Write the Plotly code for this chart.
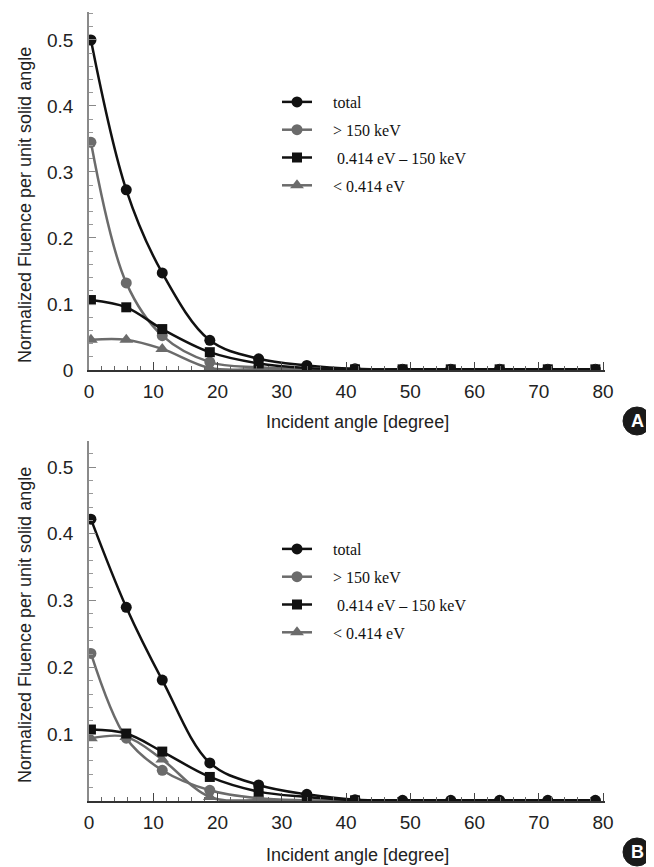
import plotly.graph_objects as go

# ---------------- data ----------------
angles = [0.3, 5.8, 11.4, 18.8, 26.4, 33.9, 41.4, 48.8, 56.3, 63.9, 71.4, 78.8]
series_names = ["total", "> 150 keV", " 0.414 eV \u2013 150 keV", "< 0.414 eV"]

# Panel A
a_total = [0.500, 0.273, 0.147, 0.045, 0.017, 0.007, 0.002, 0.001, 0.001, 0.001, 0.001, 0.001]
a_fast = [0.345, 0.132, 0.052, 0.012, 0.004, 0.001, 0.000, 0.000, 0.000, 0.000, 0.000, 0.000]
a_epi = [0.106, 0.095, 0.062, 0.027, 0.010, 0.003, 0.001, 0.001, 0.001, 0.001, 0.001, 0.001]
a_thermal = [0.046, 0.046, 0.032, 0.003, 0.001, 0.000, 0.000, 0.000, 0.000, 0.000, 0.000, 0.000]

# Panel B
b_total = [0.422, 0.290, 0.181, 0.057, 0.024, 0.010, 0.002, 0.001, 0.001, 0.001, 0.001, 0.001]
b_fast = [0.221, 0.094, 0.046, 0.016, 0.004, 0.001, 0.000, 0.000, 0.000, 0.000, 0.000, 0.000]
b_epi = [0.107, 0.101, 0.074, 0.036, 0.014, 0.006, 0.001]
b_thermal = [0.094, 0.096, 0.062, 0.006, 0.001, 0.000, 0.000, 0.000, 0.000, 0.000, 0.000, 0.000]

x_ticks = [0, 10, 20, 30, 40, 50, 60, 70, 80]
a_yticks = [0, 0.1, 0.2, 0.3, 0.4, 0.5]
b_yticks = [0.1, 0.2, 0.3, 0.4, 0.5]
panel_labels = ["A", "B"]

# ---------------- style ----------------
BLACK = "#111111"
GREY = "#6b6b6b"
styles = {
    "total": dict(color=BLACK, symbol="circle", size=11),
    "fast": dict(color=GREY, symbol="circle", size=11),
    "epi": dict(color=BLACK, symbol="square", size=10),
    "thermal": dict(color=GREY, symbol="triangle-up", size=12),
}
NB = "\u00a0" * 4

fig = go.Figure()


def add(xs, ys, key, name, yaxis, legend, group):
    st = styles[key]
    fig.add_trace(go.Scatter(
        x=xs, y=ys, mode="lines+markers", name=NB + name,
        line=dict(color=st["color"], width=2.5, shape="spline", smoothing=1.0),
        marker=dict(color=st["color"], symbol=st["symbol"], size=st["size"]),
        xaxis="x" if yaxis == "y" else "x2", yaxis=yaxis,
        legend=legend, legendgroup=group,
        legendrank={"total": 1, "fast": 2, "epi": 3, "thermal": 4}[key],
    ))


# Panel A (top)
add(angles, a_total, "total", series_names[0], "y", "legend", "a1")
add(angles, a_fast, "fast", series_names[1], "y", "legend", "a2")
add(angles, a_thermal, "thermal", series_names[3], "y", "legend", "a4")
add(angles, a_epi, "epi", series_names[2], "y", "legend", "a3")

# Panel B (bottom)
add(angles, b_thermal, "thermal", series_names[3], "y2", "legend2", "b4")
add(angles, b_fast, "fast", series_names[1], "y2", "legend2", "b2")
add(angles, b_total, "total", series_names[0], "y2", "legend2", "b1")
add(angles[:len(b_epi)], b_epi, "epi", series_names[2], "y2", "legend2", "b3")

# page has an 8px body margin; lay the figure out in page pixels minus that offset
OFF = 8
W, H = 654 - OFF, 867 - OFF
L, R, T, B = 89 - OFF, 605 - OFF, 12 - OFF, 801 - OFF
pw, ph = R - L, B - T


def px(xp):
    return (xp - OFF - L) / pw


def py(yp):
    return (B - (yp - OFF)) / ph


tickfont = dict(family="Liberation Sans, Arial, sans-serif", size=19, color="#222222")

xcommon = dict(
    range=[0, 80.3], tickvals=x_ticks, ticks="inside", ticklen=8, tickwidth=1.2,
    tickcolor="#444444", showline=True, linecolor="#333333", linewidth=1.6,
    showgrid=False, zeroline=False, tickfont=tickfont, ticklabelstandoff=3,
    minor=dict(dtick=2, ticks="inside", ticklen=4, tickcolor="#666666", tickwidth=1),
)
ycommon = dict(
    ticks="inside", ticklen=7, tickwidth=1.2, tickcolor="#888888",
    showline=True, linecolor="#8a8a8a", linewidth=1.6, showgrid=False,
    zeroline=False, tickfont=tickfont, ticklabelstandoff=10,
    minor=dict(dtick=0.02, ticks="inside", ticklen=4, tickcolor="#999999", tickwidth=1),
)

ytop0 = py(370)
ybot1 = py(441)

legfont = dict(family="Liberation Serif, Times New Roman, serif", size=16, color="#111111")

fig.update_layout(
    width=W, height=H,
    margin=dict(l=L, r=W - R, t=T, b=H - B, pad=0),
    paper_bgcolor="white", plot_bgcolor="white",
    xaxis=dict(domain=[0, 1], anchor="y", **xcommon),
    yaxis=dict(domain=[ytop0, 1], anchor="x", range=[0, 0.5424], tickvals=a_yticks,
               ticktext=["0", "0.1", "0.2", "0.3", "0.4", "0.5"], **ycommon),
    xaxis2=dict(domain=[0, 1], anchor="y2", **xcommon),
    yaxis2=dict(domain=[0, ybot1], anchor="x2", range=[0, 0.539], tickvals=b_yticks,
                ticktext=["0.1", "0.2", "0.3", "0.4", "0.5"], **ycommon),
    showlegend=True,
    legend=dict(x=px(277), y=py(85), xanchor="left", yanchor="top", font=legfont,
                bgcolor="rgba(0,0,0,0)", traceorder="grouped", tracegroupgap=4,
                itemwidth=30),
    legend2=dict(x=px(277), y=py(532), xanchor="left", yanchor="top", font=legfont,
                 bgcolor="rgba(0,0,0,0)", traceorder="grouped", tracegroupgap=4,
                 itemwidth=30),
)

titlefont = dict(family="Liberation Sans, Arial, sans-serif", size=18, color="#222222")
annotations = []
for yc in (205, 625):
    annotations.append(dict(
        text="Normalized Fluence per unit solid angle", xref="paper", yref="paper",
        x=px(25), y=py(yc), showarrow=False, textangle=-90, font=titlefont,
        xanchor="center", yanchor="middle"))
for yc in (422, 855):
    annotations.append(dict(
        text="Incident angle [degree]", xref="paper", yref="paper",
        x=px(357), y=py(yc), showarrow=False, font=titlefont,
        xanchor="center", yanchor="middle"))

shapes = []
for lab, yc in zip(panel_labels, (421, 852)):
    r = 14
    shapes.append(dict(type="circle", xref="paper", yref="paper",
                       x0=px(637 - r), x1=px(637 + r), y0=py(yc + r), y1=py(yc - r),
                       fillcolor="#1a1a1a", line=dict(color="#1a1a1a", width=1)))
    annotations.append(dict(
        text="<b>%s</b>" % lab, xref="paper", yref="paper", x=px(637), y=py(yc),
        showarrow=False,
        font=dict(family="Liberation Sans, Arial, sans-serif", size=18, color="white"),
        xanchor="center", yanchor="middle"))

fig.update_layout(annotations=annotations, shapes=shapes)

fig.write_html("out.html")
